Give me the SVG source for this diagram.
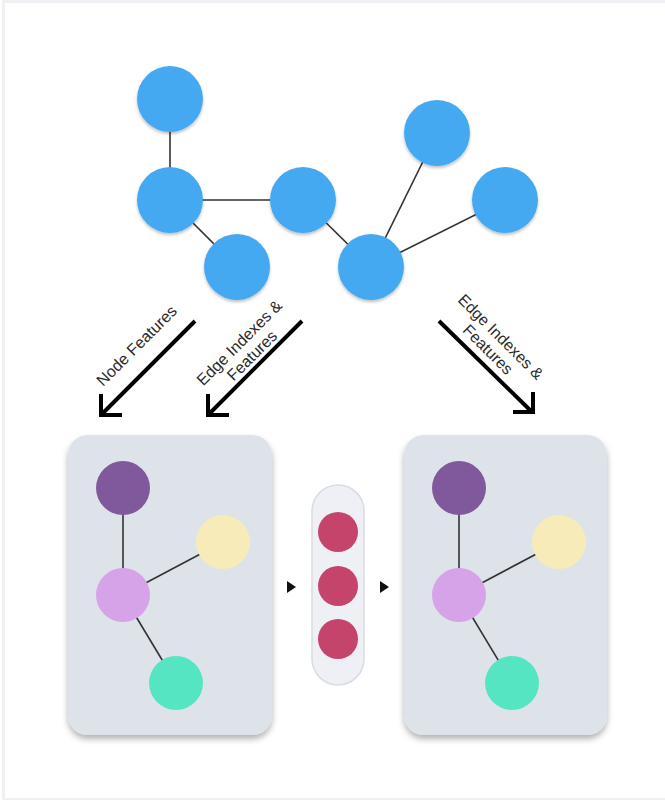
<svg xmlns="http://www.w3.org/2000/svg" width="665" height="800" viewBox="0 0 665 800">
<defs>
<filter id="sh" x="-30%" y="-30%" width="160%" height="170%"><feDropShadow dx="0" dy="2" stdDeviation="1.5" flood-color="#000" flood-opacity="0.25"/></filter>
<filter id="psh" x="-10%" y="-10%" width="120%" height="120%"><feDropShadow dx="0" dy="4" stdDeviation="3" flood-color="#000" flood-opacity="0.3"/></filter>
<style>
.b{fill:#45a9f1;filter:url(#sh)}
.e{stroke:#333;stroke-width:1.6;fill:none}
.ar{stroke:#000;stroke-width:4;fill:none;stroke-linejoin:miter;stroke-linecap:butt}
.t{font-family:"Liberation Sans",Arial,sans-serif;font-size:16px;fill:#2a2a2a;text-anchor:middle}
.panel{fill:#dee2e9;filter:url(#psh)}
.pu{fill:#80599d}.ye{fill:#f7ecb9}.li{fill:#d7a3e8}.gr{fill:#56e5c3}.rd{fill:#c4446b}
</style>
</defs>
<rect x="0" y="0" width="665" height="800" fill="#ffffff"/>
<rect x="2" y="0" width="663" height="800" fill="#eef0f4"/>
<rect x="5" y="3" width="660" height="795" fill="#ffffff"/>
<g id="connectors">
<line class="e" x1="170" y1="99" x2="170" y2="200"/>
<line class="e" x1="170" y1="200" x2="303" y2="200"/>
<line class="e" x1="170" y1="200" x2="237" y2="267"/>
<line class="e" x1="303" y1="200" x2="371" y2="267"/>
<line class="e" x1="371" y1="267" x2="437" y2="133"/>
<line class="e" x1="371" y1="267" x2="505" y2="200"/>
<path class="ar" d="M195,321 L101,415 M101,394 L101,415 L122,415"/>
<path class="ar" d="M302,321 L208,415 M208,394 L208,415 L229,415"/>
<path class="ar" d="M439,321 L532,412 M533,392 L533,412 L513,412"/>
<path d="M287,581 L296,587 L287,593 Z" fill="#111"/>
<path d="M380,581 L389,587 L380,593 Z" fill="#111"/>
</g>
<g id="n1"><circle class="b" cx="170" cy="99" r="33"/></g>
<g id="n2"><circle class="b" cx="170" cy="200" r="33"/></g>
<g id="n3"><circle class="b" cx="237" cy="267" r="33"/></g>
<g id="n4"><circle class="b" cx="303" cy="200" r="33"/></g>
<g id="n5"><circle class="b" cx="371" cy="267" r="33"/></g>
<g id="n6"><circle class="b" cx="437" cy="133" r="33"/></g>
<g id="n7"><circle class="b" cx="505" cy="200" r="33"/></g>
<g id="label1" transform="translate(137,346) rotate(-45)"><text class="t" x="0" y="5">Node Features</text></g>
<g id="label2" transform="translate(246,349.5) rotate(-45)"><text class="t" x="0" y="-4">Edge Indexes &amp;</text><text class="t" x="0" y="14">Features</text></g>
<g id="label3" transform="translate(494,343.5) rotate(45)"><text class="t" x="0" y="-4">Edge Indexes &amp;</text><text class="t" x="0" y="14">Features</text></g>
<g id="panelL"><rect class="panel" x="68" y="435" width="204" height="300" rx="20"/></g>
<g id="panelR"><rect class="panel" x="404" y="435" width="203" height="300" rx="20"/></g>
<g id="connectorsPanel">
<line class="e" x1="123" y1="488" x2="123" y2="595"/>
<line class="e" x1="123" y1="595" x2="223" y2="542"/>
<line class="e" x1="123" y1="595" x2="176" y2="683"/>
<line class="e" x1="459" y1="488" x2="459" y2="595"/>
<line class="e" x1="459" y1="595" x2="559" y2="542"/>
<line class="e" x1="459" y1="595" x2="512" y2="683"/>
</g>
<g id="lp"><circle class="pu" cx="123" cy="488" r="27"/></g>
<g id="ly"><circle class="ye" cx="223" cy="542" r="27"/></g>
<g id="ll"><circle class="li" cx="123" cy="595" r="27"/></g>
<g id="lg"><circle class="gr" cx="176" cy="683" r="27"/></g>
<g id="rp"><circle class="pu" cx="459" cy="488" r="27"/></g>
<g id="ry"><circle class="ye" cx="559" cy="542" r="27"/></g>
<g id="rl"><circle class="li" cx="459" cy="595" r="27"/></g>
<g id="rg"><circle class="gr" cx="512" cy="683" r="27"/></g>
<g id="pill"><rect x="312" y="485" width="52" height="200" rx="26" fill="#eef0f5" stroke="#d8dce4" stroke-width="1.5"/>
<circle class="rd" cx="338" cy="532" r="20"/>
<circle class="rd" cx="338" cy="586" r="20"/>
<circle class="rd" cx="338" cy="639" r="20"/>
</g>
</svg>
